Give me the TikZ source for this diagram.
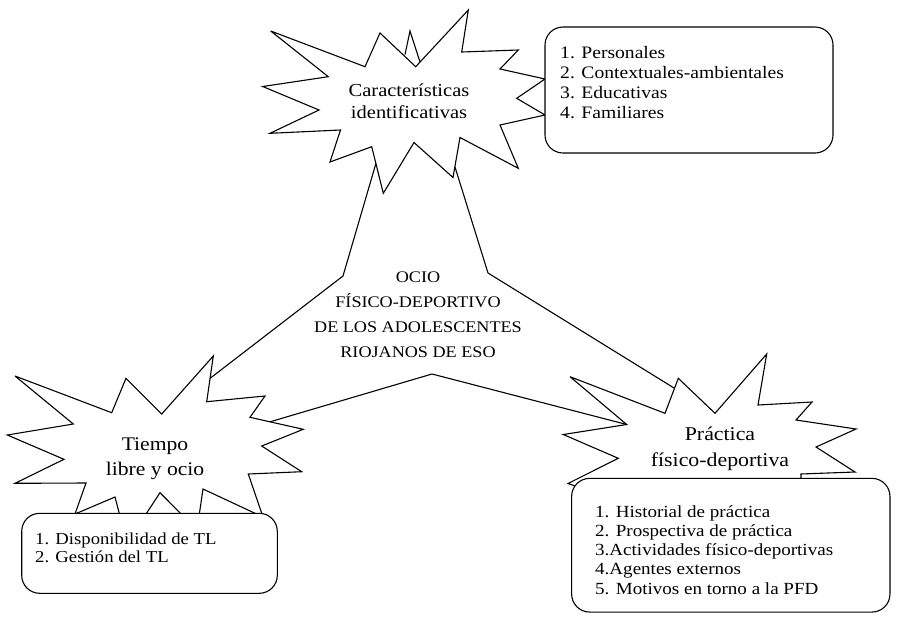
\documentclass[tikz,border=0pt]{standalone}
\usepackage{fontspec}
\setmainfont{Liberation Serif}[FakeStretch=1.12]
\begin{document}
\begin{tikzpicture}[x=1pt,y=-1pt,
  burst/.style={draw,line width=1.1pt,line join=miter,miter limit=6,fill=white},
  link/.style={draw,line width=1.1pt,line join=miter},
  listbox/.style={draw,line width=1.1pt,fill=white,rounded corners=18pt,inner sep=0pt},
  listtext/.style={anchor=base west,inner sep=0pt,font=\fontsize{17}{19.5}\selectfont},
  burstlabel/.style={anchor=base,inner sep=0pt,font=\fontsize{19.3}{25}\selectfont},
  centrelabel/.style={anchor=base,inner sep=0pt,font=\fontsize{16.2}{25}\selectfont}]
\useasboundingbox (0,0) rectangle (902,625);
\fill[white] (0,0) rectangle (902,625);

% --- starburst: Caracteristicas identificativas
\path[burst] (270.7,31) -- (365,66.7) -- (380,33) -- (415.7,66.7) -- (468.3,10)
  -- (461.7,52) -- (518.3,50) -- (500,69) -- (545,79) -- (516.7,98.3) -- (545,115)
  -- (500,125) -- (518.3,168.3) -- (460,137.5) -- (453,177.5) -- (414,142.5)
  -- (383.3,193.3) -- (371.7,146.7) -- (330,162) -- (340.5,130) -- (270,133.3)
  -- (319,110) -- (262.7,86.5) -- (328.3,76.7) -- cycle;
\path[link] (405,54.5) -- (410,31) -- (420,62);

% --- starburst: Tiempo libre y ocio
\path[burst] (15,376) -- (111.7,412.7) -- (126,378.3) -- (161.7,414) -- (213.3,356)
  -- (206.7,401.7) -- (265,396) -- (250,417.3) -- (303.3,429.3) -- (261.7,446)
  -- (301.7,471.7) -- (248.3,474) -- (263,517) -- (203,489) -- (197,530)
  -- (160,492.7) -- (127,543) -- (115,497) -- (75,514) -- (86,483) -- (15,483.3)
  -- (64,459.3) -- (7.3,435) -- (73.3,424) -- cycle;

% --- starburst: Practica fisico-deportiva
\path[burst] (570,376.7) -- (665,413.3) -- (678.3,378.3) -- (715,413.3) -- (766.7,354)
  -- (758,405) -- (812,402) -- (796,420) -- (856,429) -- (816,447) -- (855,472)
  -- (801,474) -- (801,492) -- (610,498) -- (568,483.5) -- (618.3,458.3)
  -- (563.3,434.5) -- (626.7,424.5) -- cycle;

% --- junctions of the central triangle
\coordinate (topL) at (375.9,163.5);
\coordinate (bendL) at (343,276);
\coordinate (leftT) at (210.1,378.3);
\coordinate (topR) at (454.9,166.7);
\coordinate (bendR) at (488,273);
\coordinate (rightT) at (674.5,388.3);
\coordinate (leftB) at (270,421.8);
\coordinate (apex) at (432,374);
\coordinate (rightB) at (626.7,424.5);

\path[link] (topL) -- (bendL) -- (leftT);
\path[link] (topR) -- (bendR) -- (rightT);
\path[link] (leftB) -- (apex) -- (rightB);

% --- list boxes
\node[listbox,minimum width=288pt,minimum height=126pt] (boxT) at (689,90) {};
\node[listbox,minimum width=255.6pt,minimum height=80pt] (boxL) at (149.5,553.3) {};
\node[listbox,minimum width=318.3pt,minimum height=133.7pt] (boxR) at (730.8,545.2) {};

\node[listtext,font=\fontsize{17.5}{20}\selectfont] (listT) at (560,58.3) {\begin{tabular}[t]{@{}l@{}}
1. Personales\\ 2. Contextuales-ambientales\\ 3. Educativas\\ 4. Familiares\end{tabular}};
\node[listtext,font=\fontsize{16.7}{18.4}\selectfont] (listL) at (35,544.3) {\begin{tabular}[t]{@{}l@{}}
1. Disponibilidad de TL\\ 2. Gestión del TL\end{tabular}};
\node[listtext,font=\fontsize{17}{19.2}\selectfont] (listR) at (595,517.3) {\begin{tabular}[t]{@{}l@{}}
1. Historial de práctica\\ 2. Prospectiva de práctica\\ 3.Actividades físico-deportivas\\
4.Agentes externos\\ 5. Motivos en torno a la PFD\end{tabular}};

% --- labels
\node[burstlabel,font=\fontsize{18.3}{21.6}\selectfont] (labT) at (409,96.7)
  {\begin{tabular}[t]{@{}c@{}}Características\\ identificativas\end{tabular}};
\node[burstlabel] (labL) at (155,450)
  {\begin{tabular}[t]{@{}c@{}}Tiempo\\ libre y ocio\end{tabular}};
\node[burstlabel,font=\fontsize{19.5}{26.7}\selectfont] (labR) at (720,440)
  {\begin{tabular}[t]{@{}c@{}}Práctica\\ físico-deportiva\end{tabular}};
\node[centrelabel] (labC) at (418,282)
  {\begin{tabular}[t]{@{}c@{}}OCIO\\ FÍSICO-DEPORTIVO\\ DE LOS ADOLESCENTES\\ RIOJANOS DE ESO\end{tabular}};
\end{tikzpicture}
\end{document}
